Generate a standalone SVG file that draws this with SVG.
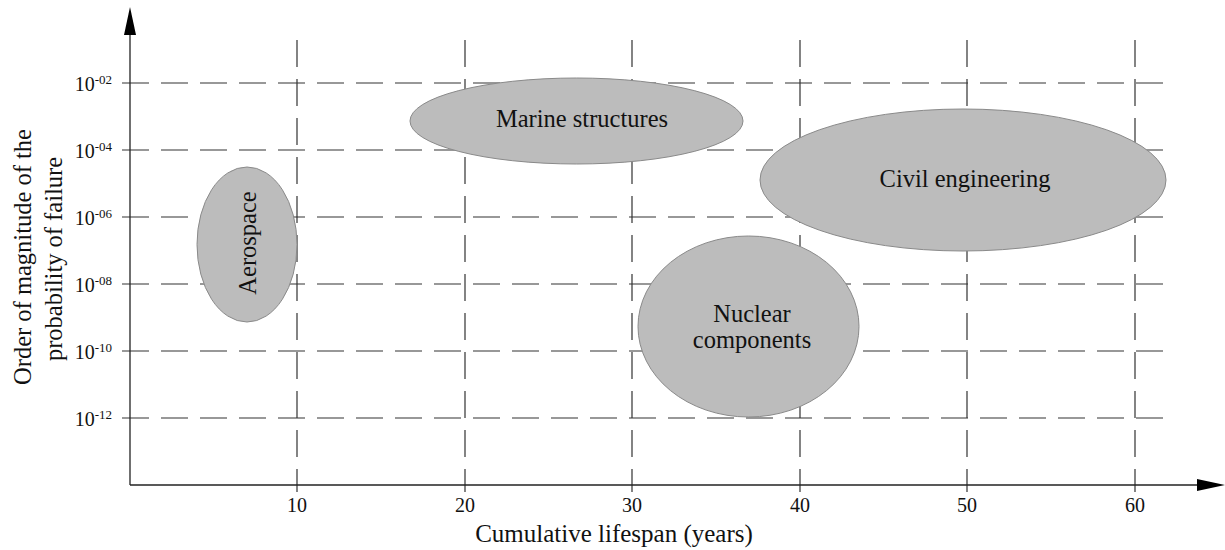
<svg xmlns="http://www.w3.org/2000/svg" width="1225" height="550" viewBox="0 0 1225 550">
<style>
text{font-family:"Liberation Serif","Times New Roman",serif;fill:#111}
.lbl{font-size:24.5px;text-anchor:middle}
.title{font-size:25px;text-anchor:middle}
.tick{font-size:20px;text-anchor:middle}
.ytick{font-size:20px;text-anchor:end}
.sup{font-size:13px}
.grid{stroke:#333;stroke-width:1.2;stroke-dasharray:27 12;fill:none}
.axis{stroke:#222;stroke-width:1.3;fill:none}
.blob{fill:#bcbcbc;stroke:#8a8a8a;stroke-width:1}
</style>
<defs>
<marker id="arr" markerUnits="userSpaceOnUse" markerWidth="30" markerHeight="14" refX="0" refY="6" orient="auto" viewBox="0 0 30 12">
<path d="M0,0 L28,6 L0,12 Z" fill="#000"/>
</marker>
</defs>
<g id="grid">
<line class="grid" x1="122" y1="83" x2="1168" y2="83"/>
<line class="grid" x1="122" y1="150" x2="1168" y2="150"/>
<line class="grid" x1="122" y1="217" x2="1168" y2="217"/>
<line class="grid" x1="122" y1="284" x2="1168" y2="284"/>
<line class="grid" x1="122" y1="351" x2="1168" y2="351"/>
<line class="grid" x1="122" y1="418" x2="1168" y2="418"/>
<line class="grid" x1="297" y1="40" x2="297" y2="492"/>
<line class="grid" x1="465" y1="40" x2="465" y2="492"/>
<line class="grid" x1="632" y1="40" x2="632" y2="492"/>
<line class="grid" x1="800" y1="40" x2="800" y2="492"/>
<line class="grid" x1="967" y1="40" x2="967" y2="492"/>
<line class="grid" x1="1135" y1="40" x2="1135" y2="492"/>
</g>
<g id="connectors">
<line class="axis" x1="130" y1="485" x2="130" y2="35" marker-end="url(#arr)"/>
<line class="axis" x1="130" y1="485" x2="1197" y2="485" marker-end="url(#arr)"/>
</g>
<g id="y-ticks">
<text class="ytick" x="112" y="91">10<tspan class="sup" dy="-7">-02</tspan></text>
<text class="ytick" x="112" y="158">10<tspan class="sup" dy="-7">-04</tspan></text>
<text class="ytick" x="112" y="225">10<tspan class="sup" dy="-7">-06</tspan></text>
<text class="ytick" x="112" y="292">10<tspan class="sup" dy="-7">-08</tspan></text>
<text class="ytick" x="112" y="359">10<tspan class="sup" dy="-7">-10</tspan></text>
<text class="ytick" x="112" y="426">10<tspan class="sup" dy="-7">-12</tspan></text>
</g>
<g id="x-ticks">
<text class="tick" x="297" y="512">10</text>
<text class="tick" x="465" y="512">20</text>
<text class="tick" x="632" y="512">30</text>
<text class="tick" x="800" y="512">40</text>
<text class="tick" x="967" y="512">50</text>
<text class="tick" x="1135" y="512">60</text>
</g>
<g id="axis-titles">
<text class="title" x="614" y="542">Cumulative lifespan (years)</text>
<text class="lbl" transform="translate(31,257) rotate(-90)">Order of magnitude of the</text>
<text class="lbl" transform="translate(62,259) rotate(-90)">probability of failure</text>
</g>
<g id="aerospace">
<ellipse class="blob" cx="247" cy="244.5" rx="50" ry="77.5"/>
<text class="lbl" transform="translate(256,243) rotate(-90)">Aerospace</text>
</g>
<g id="marine">
<ellipse class="blob" cx="576.5" cy="121" rx="166.5" ry="43"/>
<text class="lbl" x="582" y="127">Marine structures</text>
</g>
<g id="civil">
<ellipse class="blob" cx="963" cy="180" rx="203" ry="71"/>
<text class="lbl" x="965" y="187">Civil engineering</text>
</g>
<g id="nuclear">
<ellipse class="blob" cx="748.5" cy="326.5" rx="110.5" ry="90.5"/>
<text class="lbl" x="752" y="322">Nuclear</text>
<text class="lbl" x="752" y="348">components</text>
</g>
</svg>
